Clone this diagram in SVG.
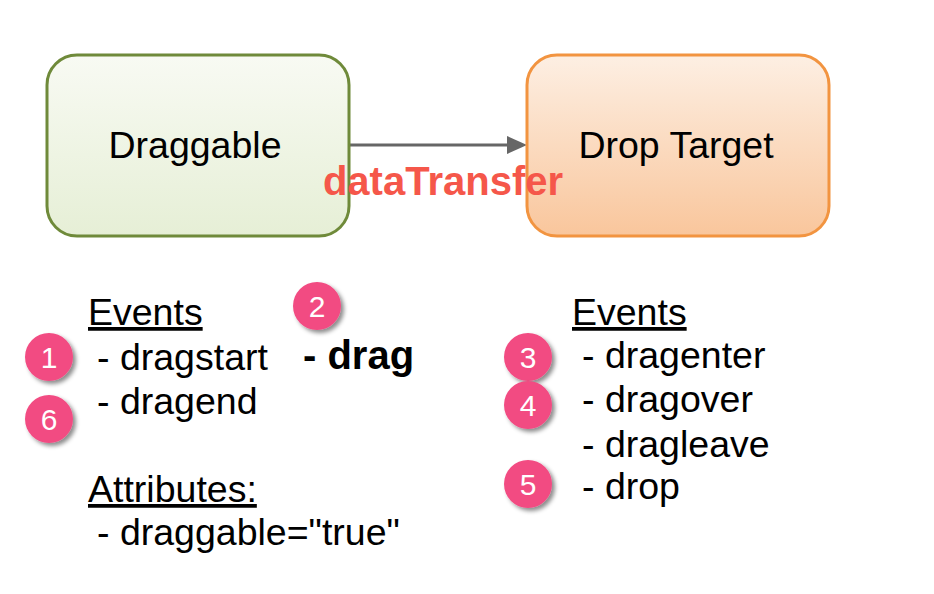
<svg xmlns="http://www.w3.org/2000/svg" width="934" height="594" viewBox="0 0 934 594">
<defs>
<linearGradient id="gGreen" x1="0" y1="0" x2="0" y2="1"><stop offset="0" stop-color="#f8faf3"/><stop offset="1" stop-color="#e6efd6"/></linearGradient>
<linearGradient id="gOrange" x1="0" y1="0" x2="0" y2="1"><stop offset="0" stop-color="#fdefe3"/><stop offset="1" stop-color="#f9c69c"/></linearGradient>
<filter id="sh" x="-30%" y="-30%" width="170%" height="170%"><feDropShadow dx="3" dy="3" stdDeviation="2" flood-color="#000" flood-opacity="0.45"/></filter>
</defs>
<style>
text{font-family:"Liberation Sans",Arial,sans-serif;fill:#000}
.lbl{font-size:37.5px}
.b{font-weight:bold;font-size:40px}
.u{text-decoration:underline}
.badge circle{fill:#f24b82;filter:url(#sh)}
.badge text{fill:#fff;font-size:30px;text-anchor:middle}
</style>
<rect width="934" height="594" fill="#fff"/>
<g id="connectors">
<line x1="349" y1="145" x2="508" y2="145" stroke="#666" stroke-width="3"/>
<path d="M507,136 L527,145 L507,154 Z" fill="#666"/>
</g>
<g id="draggable">
<rect x="47" y="55" width="302" height="181" rx="30" fill="url(#gGreen)" stroke="#6f8a3a" stroke-width="3"/>
<text class="lbl" x="195" y="158" text-anchor="middle">Draggable</text>
</g>
<g id="dropTarget">
<rect x="527" y="55" width="302" height="181" rx="30" fill="url(#gOrange)" stroke="#f29440" stroke-width="3"/>
<text class="lbl" x="676" y="158" text-anchor="middle">Drop Target</text>
</g>
<text class="b" x="443" y="195" text-anchor="middle" style="fill:#f5574a">dataTransfer</text>
<g id="leftEvents">
<text class="lbl u" x="88" y="325">Events</text>
<text class="lbl" x="97" y="370">- dragstart</text>
<text class="lbl" x="97" y="414">- dragend</text>
<text class="lbl u" x="88" y="502">Attributes:</text>
<text class="lbl" x="97" y="545">- draggable="true"</text>
</g>
<text class="b" x="303" y="369">- drag</text>
<g id="rightEvents">
<text class="lbl u" x="572" y="325">Events</text>
<text class="lbl" x="582" y="368">- dragenter</text>
<text class="lbl" x="582" y="412">- dragover</text>
<text class="lbl" x="582" y="457">- dragleave</text>
<text class="lbl" x="582" y="499">- drop</text>
</g>
<g id="badge1" class="badge"><circle cx="49" cy="357" r="24"/><text x="49" y="368">1</text></g>
<g id="badge2" class="badge"><circle cx="317" cy="306" r="24"/><text x="317" y="317">2</text></g>
<g id="badge3" class="badge"><circle cx="528" cy="357" r="24"/><text x="528" y="368">3</text></g>
<g id="badge4" class="badge"><circle cx="528" cy="405" r="24"/><text x="528" y="416">4</text></g>
<g id="badge5" class="badge"><circle cx="528" cy="484" r="24"/><text x="528" y="495">5</text></g>
<g id="badge6" class="badge"><circle cx="49" cy="419" r="24"/><text x="49" y="430">6</text></g>
</svg>
